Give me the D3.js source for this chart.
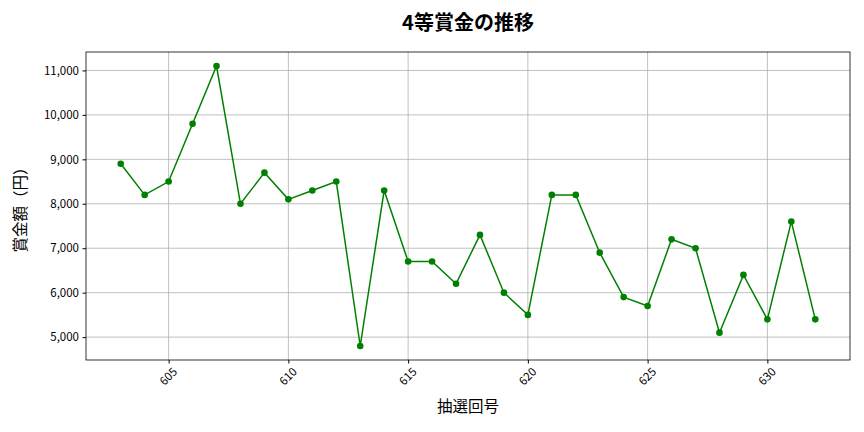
<!DOCTYPE html>
<html><head><meta charset="utf-8">
<script src="https://cdn.jsdelivr.net/npm/d3@7"></script>
<style>body{margin:0;background:#fff}svg{display:block}text{font-family:"Noto Sans CJK JP","Noto Sans",sans-serif}</style>
</head><body><svg id="c" width="864" height="432"></svg>
<script>
const draws = [603,604,605,606,607,608,609,610,611,612,613,614,615,616,617,618,619,620,621,622,623,624,625,626,627,628,629,630,631,632];
const prizes = [8900,8200,8500,9800,11100,8000,8700,8100,8300,8500,4800,8300,6700,6700,6200,7300,6000,5500,8200,8200,6900,5900,5700,7200,7000,5100,6400,5400,7600,5400];
const xTicks = [605,610,615,620,625,630];
const yTicks = [5000,6000,7000,8000,9000,10000,11000];
const title = "4等賞金の推移", xLabel = "抽選回号", yLabel = "賞金額（円）";

const L=86,R=850,T=52,B=360;
const svg=d3.select("#c");
const xmin=d3.min(draws),xmax=d3.max(draws),xp=(xmax-xmin)*0.05;
const ymin=d3.min(prizes),ymax=d3.max(prizes),yp=(ymax-ymin)*0.05;
const x=d3.scaleLinear().domain([xmin-xp,xmax+xp]).range([L,R]);
const y=d3.scaleLinear().domain([ymin-yp,ymax+yp]).range([B,T]);
// grid
svg.append("g").selectAll("line").data(xTicks).join("line")
 .attr("x1",d=>x(d)).attr("x2",d=>x(d)).attr("y1",T).attr("y2",B).attr("stroke","#b0b0b0").attr("stroke-width",0.8);
svg.append("g").selectAll("line").data(yTicks).join("line")
 .attr("y1",d=>y(d)).attr("y2",d=>y(d)).attr("x1",L).attr("x2",R).attr("stroke","#b0b0b0").attr("stroke-width",0.8);
// axes
const xa=svg.append("g").attr("transform",`translate(0,${B})`).call(d3.axisBottom(x).tickValues(xTicks).tickFormat(d3.format("d")).tickSize(3.5).tickPadding(3));
xa.select(".domain").remove();
xa.selectAll("text").attr("font-size",11.5).attr("fill","#000")
 .attr("text-anchor","middle").attr("dy",0).attr("y",0)
 .attr("transform","translate(0,17) rotate(-45)").attr("dominant-baseline","middle");
xa.selectAll("line").attr("stroke","#000");
const ya=svg.append("g").attr("transform",`translate(${L},0)`).call(d3.axisLeft(y).tickValues(yTicks).tickFormat(d3.format(",")).tickSize(3.5).tickPadding(3.5));
ya.select(".domain").remove();
ya.selectAll("text").attr("font-size",11.5).attr("fill","#000");
ya.selectAll("line").attr("stroke","#000");
svg.append("rect").attr("x",L).attr("y",T).attr("width",R-L).attr("height",B-T).attr("fill","none").attr("stroke","#000").attr("stroke-width",0.8);
// line
svg.append("path").datum(draws.map((d,i)=>[d,prizes[i]]))
 .attr("d",d3.line().x(d=>x(d[0])).y(d=>y(d[1]))).attr("fill","none").attr("stroke","green").attr("stroke-width",1.5);
svg.append("g").selectAll("circle").data(draws).join("circle")
 .attr("cx",d=>x(d)).attr("cy",(d,i)=>y(prizes[i])).attr("r",3.3).attr("fill","green");
// labels
svg.append("text").attr("x",(L+R)/2).attr("y",25).attr("text-anchor","middle").attr("dominant-baseline","middle").attr("font-size",20).attr("font-weight","bold").text(title);
svg.append("text").attr("x",(L+R)/2).attr("y",408).attr("text-anchor","middle").attr("dominant-baseline","middle").attr("font-size",15.5).text(xLabel);
svg.append("text").attr("transform",`translate(22,${(T+B)/2}) rotate(-90)`).attr("text-anchor","middle").attr("dominant-baseline","middle").attr("font-size",15.5).text(yLabel);
</script></body></html>
